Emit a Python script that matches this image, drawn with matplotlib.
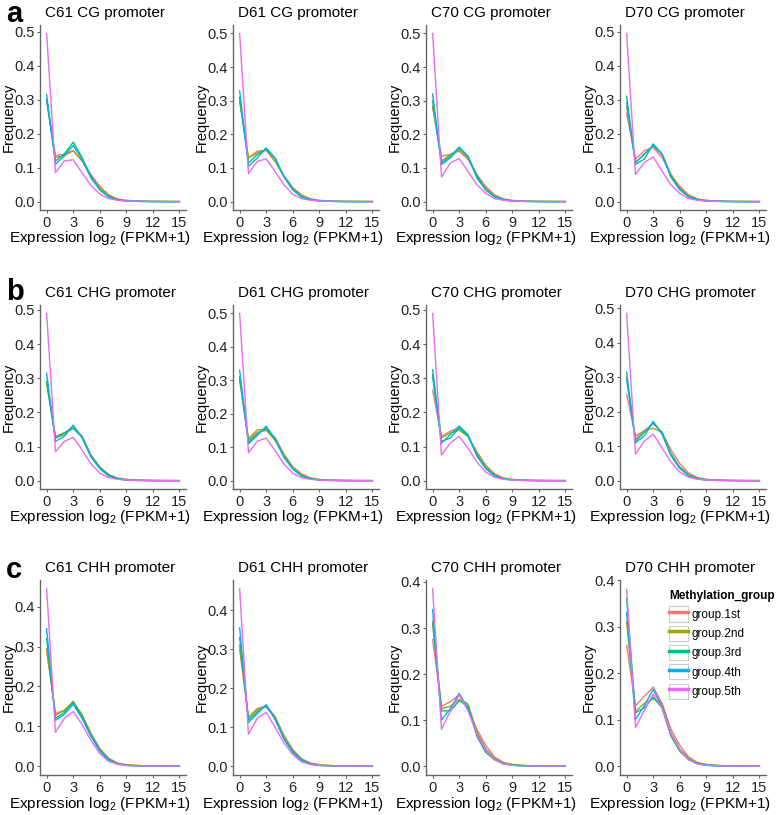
import matplotlib
matplotlib.use("Agg")
import matplotlib.pyplot as plt
from matplotlib.patches import Rectangle
from matplotlib.lines import Line2D
from matplotlib.legend_handler import HandlerTuple

plt.rcParams["font.family"] = ["Liberation Sans", "DejaVu Sans"]
plt.rcParams["mathtext.default"] = "regular"

x = list(range(16))
groups = ["group.1st", "group.2nd", "group.3rd", "group.4th", "group.5th"]
colors = ["#F8766D", "#A3A500", "#00BF7D", "#00B0F6", "#E76BF3"]

# ---- CG promoter ----
c61_cg = [
    [0.300, 0.135, 0.140, 0.150, 0.120, 0.080, 0.045, 0.020, 0.008, 0.004, 0.002, 0.001, 0.0005, 0.0003, 0.0002, 0.0001],
    [0.300, 0.130, 0.135, 0.150, 0.120, 0.075, 0.040, 0.018, 0.007, 0.003, 0.002, 0.001, 0.0005, 0.0003, 0.0002, 0.0001],
    [0.300, 0.120, 0.140, 0.175, 0.130, 0.075, 0.035, 0.015, 0.005, 0.002, 0.001, 0.0005, 0.0003, 0.0002, 0.0001, 0.0001],
    [0.315, 0.110, 0.135, 0.165, 0.125, 0.070, 0.035, 0.014, 0.005, 0.002, 0.001, 0.0005, 0.0003, 0.0002, 0.0001, 0.0001],
    [0.495, 0.085, 0.120, 0.123, 0.085, 0.048, 0.022, 0.009, 0.004, 0.002, 0.001, 0.0005, 0.0003, 0.0002, 0.0001, 0.0001],
]
d61_cg = [
    [0.300, 0.130, 0.150, 0.152, 0.120, 0.078, 0.042, 0.020, 0.008, 0.004, 0.002, 0.001, 0.0005, 0.0003, 0.0002, 0.0001],
    [0.300, 0.130, 0.145, 0.155, 0.120, 0.075, 0.040, 0.018, 0.007, 0.003, 0.002, 0.001, 0.0005, 0.0003, 0.0002, 0.0001],
    [0.310, 0.115, 0.140, 0.155, 0.130, 0.075, 0.036, 0.015, 0.006, 0.002, 0.001, 0.0005, 0.0003, 0.0002, 0.0001, 0.0001],
    [0.330, 0.105, 0.130, 0.160, 0.130, 0.075, 0.035, 0.014, 0.005, 0.002, 0.001, 0.0005, 0.0003, 0.0002, 0.0001, 0.0001],
    [0.500, 0.083, 0.120, 0.127, 0.090, 0.050, 0.022, 0.009, 0.004, 0.002, 0.001, 0.0005, 0.0003, 0.0002, 0.0001, 0.0001],
]
c70_cg = [
    [0.280, 0.135, 0.140, 0.150, 0.125, 0.080, 0.045, 0.020, 0.008, 0.004, 0.002, 0.001, 0.0005, 0.0003, 0.0002, 0.0001],
    [0.285, 0.120, 0.140, 0.155, 0.130, 0.080, 0.040, 0.018, 0.007, 0.003, 0.002, 0.001, 0.0005, 0.0003, 0.0002, 0.0001],
    [0.320, 0.110, 0.130, 0.160, 0.135, 0.075, 0.035, 0.015, 0.006, 0.002, 0.001, 0.0005, 0.0003, 0.0002, 0.0001, 0.0001],
    [0.300, 0.115, 0.135, 0.162, 0.135, 0.070, 0.035, 0.014, 0.005, 0.002, 0.001, 0.0005, 0.0003, 0.0002, 0.0001, 0.0001],
    [0.500, 0.073, 0.115, 0.128, 0.090, 0.050, 0.025, 0.009, 0.004, 0.002, 0.001, 0.0005, 0.0003, 0.0002, 0.0001, 0.0001],
]
d70_cg = [
    [0.260, 0.125, 0.150, 0.160, 0.130, 0.080, 0.045, 0.020, 0.008, 0.004, 0.002, 0.001, 0.0005, 0.0003, 0.0002, 0.0001],
    [0.280, 0.115, 0.140, 0.165, 0.140, 0.080, 0.040, 0.018, 0.007, 0.003, 0.002, 0.001, 0.0005, 0.0003, 0.0002, 0.0001],
    [0.310, 0.110, 0.125, 0.170, 0.140, 0.072, 0.035, 0.015, 0.006, 0.002, 0.001, 0.0005, 0.0003, 0.0002, 0.0001, 0.0001],
    [0.290, 0.115, 0.140, 0.165, 0.140, 0.075, 0.036, 0.014, 0.005, 0.002, 0.001, 0.0005, 0.0003, 0.0002, 0.0001, 0.0001],
    [0.495, 0.080, 0.115, 0.132, 0.090, 0.050, 0.024, 0.009, 0.004, 0.002, 0.001, 0.0005, 0.0003, 0.0002, 0.0001, 0.0001],
]

# ---- CHG promoter ----
c61_chg = [
    [0.290, 0.130, 0.140, 0.158, 0.130, 0.075, 0.040, 0.018, 0.008, 0.004, 0.002, 0.001, 0.0005, 0.0003, 0.0002, 0.0001],
    [0.285, 0.125, 0.135, 0.155, 0.130, 0.075, 0.040, 0.018, 0.007, 0.003, 0.002, 0.001, 0.0005, 0.0003, 0.0002, 0.0001],
    [0.290, 0.125, 0.140, 0.153, 0.128, 0.072, 0.038, 0.016, 0.006, 0.002, 0.001, 0.0005, 0.0003, 0.0002, 0.0001, 0.0001],
    [0.315, 0.115, 0.130, 0.163, 0.125, 0.070, 0.035, 0.014, 0.005, 0.002, 0.001, 0.0005, 0.0003, 0.0002, 0.0001, 0.0001],
    [0.490, 0.085, 0.115, 0.127, 0.090, 0.050, 0.022, 0.009, 0.004, 0.002, 0.001, 0.0005, 0.0003, 0.0002, 0.0001, 0.0001],
]
d61_chg = [
    [0.300, 0.120, 0.145, 0.150, 0.130, 0.080, 0.042, 0.020, 0.008, 0.004, 0.002, 0.001, 0.0005, 0.0003, 0.0002, 0.0001],
    [0.310, 0.125, 0.152, 0.152, 0.120, 0.075, 0.040, 0.018, 0.007, 0.003, 0.002, 0.001, 0.0005, 0.0003, 0.0002, 0.0001],
    [0.310, 0.115, 0.140, 0.157, 0.125, 0.072, 0.036, 0.015, 0.006, 0.002, 0.001, 0.0005, 0.0003, 0.0002, 0.0001, 0.0001],
    [0.330, 0.110, 0.135, 0.163, 0.125, 0.070, 0.035, 0.014, 0.005, 0.002, 0.001, 0.0005, 0.0003, 0.0002, 0.0001, 0.0001],
    [0.500, 0.083, 0.118, 0.127, 0.090, 0.050, 0.022, 0.009, 0.004, 0.002, 0.001, 0.0005, 0.0003, 0.0002, 0.0001, 0.0001],
]
c70_chg = [
    [0.265, 0.130, 0.145, 0.155, 0.130, 0.085, 0.045, 0.020, 0.008, 0.004, 0.002, 0.001, 0.0005, 0.0003, 0.0002, 0.0001],
    [0.310, 0.125, 0.140, 0.148, 0.130, 0.080, 0.040, 0.018, 0.007, 0.003, 0.002, 0.001, 0.0005, 0.0003, 0.0002, 0.0001],
    [0.325, 0.115, 0.125, 0.155, 0.130, 0.075, 0.037, 0.015, 0.006, 0.002, 0.001, 0.0005, 0.0003, 0.0002, 0.0001, 0.0001],
    [0.305, 0.110, 0.135, 0.160, 0.135, 0.072, 0.035, 0.014, 0.005, 0.002, 0.001, 0.0005, 0.0003, 0.0002, 0.0001, 0.0001],
    [0.490, 0.075, 0.110, 0.130, 0.095, 0.055, 0.025, 0.010, 0.004, 0.002, 0.001, 0.0005, 0.0003, 0.0002, 0.0001, 0.0001],
]
d70_chg = [
    [0.250, 0.130, 0.145, 0.165, 0.140, 0.090, 0.050, 0.022, 0.009, 0.004, 0.002, 0.001, 0.0005, 0.0003, 0.0002, 0.0001],
    [0.300, 0.120, 0.145, 0.152, 0.140, 0.080, 0.040, 0.018, 0.007, 0.003, 0.002, 0.001, 0.0005, 0.0003, 0.0002, 0.0001],
    [0.315, 0.110, 0.130, 0.172, 0.135, 0.073, 0.036, 0.015, 0.006, 0.002, 0.001, 0.0005, 0.0003, 0.0002, 0.0001, 0.0001],
    [0.295, 0.115, 0.140, 0.167, 0.140, 0.075, 0.037, 0.014, 0.005, 0.002, 0.001, 0.0005, 0.0003, 0.0002, 0.0001, 0.0001],
    [0.485, 0.077, 0.115, 0.135, 0.095, 0.055, 0.025, 0.010, 0.004, 0.002, 0.001, 0.0005, 0.0003, 0.0002, 0.0001, 0.0001],
]

# ---- CHH promoter ----
c61_chh = [
    [0.290, 0.132, 0.140, 0.160, 0.130, 0.083, 0.045, 0.020, 0.008, 0.004, 0.002, 0.001, 0.0005, 0.0003, 0.0002, 0.0001],
    [0.295, 0.128, 0.140, 0.163, 0.128, 0.080, 0.042, 0.019, 0.007, 0.003, 0.002, 0.001, 0.0005, 0.0003, 0.0002, 0.0001],
    [0.320, 0.120, 0.135, 0.160, 0.125, 0.078, 0.040, 0.017, 0.006, 0.002, 0.001, 0.0005, 0.0003, 0.0002, 0.0001, 0.0001],
    [0.345, 0.115, 0.130, 0.155, 0.120, 0.075, 0.038, 0.015, 0.005, 0.002, 0.001, 0.0005, 0.0003, 0.0002, 0.0001, 0.0001],
    [0.445, 0.085, 0.120, 0.137, 0.105, 0.065, 0.032, 0.012, 0.005, 0.002, 0.001, 0.0005, 0.0003, 0.0002, 0.0001, 0.0001],
]
d61_chh = [
    [0.300, 0.125, 0.148, 0.155, 0.128, 0.080, 0.043, 0.019, 0.008, 0.004, 0.002, 0.001, 0.0005, 0.0003, 0.0002, 0.0001],
    [0.310, 0.125, 0.145, 0.152, 0.125, 0.075, 0.040, 0.018, 0.007, 0.003, 0.002, 0.001, 0.0005, 0.0003, 0.0002, 0.0001],
    [0.330, 0.118, 0.140, 0.155, 0.122, 0.072, 0.037, 0.016, 0.006, 0.002, 0.001, 0.0005, 0.0003, 0.0002, 0.0001, 0.0001],
    [0.355, 0.112, 0.135, 0.158, 0.120, 0.070, 0.035, 0.014, 0.005, 0.002, 0.001, 0.0005, 0.0003, 0.0002, 0.0001, 0.0001],
    [0.455, 0.082, 0.123, 0.138, 0.100, 0.060, 0.030, 0.011, 0.004, 0.002, 0.001, 0.0005, 0.0003, 0.0002, 0.0001, 0.0001],
]
c70_chh = [
    [0.275, 0.130, 0.140, 0.155, 0.125, 0.080, 0.045, 0.020, 0.008, 0.004, 0.002, 0.001, 0.0005, 0.0003, 0.0002, 0.0001],
    [0.315, 0.125, 0.130, 0.145, 0.135, 0.075, 0.037, 0.017, 0.007, 0.003, 0.002, 0.001, 0.0005, 0.0003, 0.0002, 0.0001],
    [0.310, 0.120, 0.120, 0.142, 0.130, 0.065, 0.030, 0.014, 0.006, 0.002, 0.001, 0.0005, 0.0003, 0.0002, 0.0001, 0.0001],
    [0.340, 0.100, 0.125, 0.158, 0.125, 0.070, 0.035, 0.015, 0.005, 0.002, 0.001, 0.0005, 0.0003, 0.0002, 0.0001, 0.0001],
    [0.385, 0.080, 0.120, 0.155, 0.120, 0.070, 0.035, 0.014, 0.005, 0.002, 0.001, 0.0005, 0.0003, 0.0002, 0.0001, 0.0001],
]
d70_chh = [
    [0.260, 0.130, 0.150, 0.170, 0.135, 0.080, 0.045, 0.020, 0.008, 0.004, 0.002, 0.001, 0.0005, 0.0003, 0.0002, 0.0001],
    [0.310, 0.118, 0.135, 0.145, 0.135, 0.072, 0.037, 0.017, 0.007, 0.003, 0.002, 0.001, 0.0005, 0.0003, 0.0002, 0.0001],
    [0.360, 0.115, 0.125, 0.148, 0.125, 0.065, 0.032, 0.014, 0.006, 0.002, 0.001, 0.0005, 0.0003, 0.0002, 0.0001, 0.0001],
    [0.330, 0.100, 0.130, 0.165, 0.128, 0.070, 0.035, 0.015, 0.005, 0.002, 0.001, 0.0005, 0.0003, 0.0002, 0.0001, 0.0001],
    [0.380, 0.083, 0.120, 0.155, 0.125, 0.070, 0.035, 0.014, 0.005, 0.002, 0.001, 0.0005, 0.0003, 0.0002, 0.0001, 0.0001],
]

rows = [
    ("a", ["C61 CG promoter", "D61 CG promoter", "C70 CG promoter", "D70 CG promoter"],
     [c61_cg, d61_cg, c70_cg, d70_cg]),
    ("b", ["C61 CHG promoter", "D61 CHG promoter", "C70 CHG promoter", "D70 CHG promoter"],
     [c61_chg, d61_chg, c70_chg, d70_chg]),
    ("c", ["C61 CHH promoter", "D61 CHH promoter", "C70 CHH promoter", "D70 CHH promoter"],
     [c61_chh, d61_chh, c70_chh, d70_chh]),
]

W, H = 777, 815
fig = plt.figure(figsize=(W / 100, H / 100), dpi=100)

col_left = [40, 233, 426, 620]
ax_w = 146
row_tb = [(25, 210), (305, 489), (580, 775)]
label_base = [22, 300, 578]

AXCOL = "#666666"
for r, (letter, titles, panels) in enumerate(rows):
    top, bot = row_tb[r]
    for c in range(4):
        ax = fig.add_axes([col_left[c] / W, 1 - bot / H, ax_w / W, (bot - top) / H])
        for g in range(5):
            ax.plot(x, panels[c][g], color=colors[g], lw=1.0)
        ax.margins(x=0.05, y=0.05)
        ax.set_xticks([0, 3, 6, 9, 12, 15])
        ax.set_yticks([0.0, 0.1, 0.2, 0.3, 0.4, 0.5] if r < 2 else [0.0, 0.1, 0.2, 0.3, 0.4])
        ax.yaxis.set_major_formatter(matplotlib.ticker.FormatStrFormatter("%.1f"))
        for s in ["top", "right"]:
            ax.spines[s].set_visible(False)
        for s in ["left", "bottom"]:
            ax.spines[s].set_color(AXCOL)
            ax.spines[s].set_linewidth(1.0)
        ax.tick_params(colors=AXCOL, labelcolor="#222222", labelsize=10.5, length=2.5, width=0.8, pad=1.5)
        ax.set_title(titles[c], fontsize=11, pad=6, loc="left", x=0.035)
        ax.set_ylabel("Frequency", fontsize=10.5)
        ax.yaxis.set_label_coords(-0.165, 0.5)
        ax.set_xlabel("Expression log$_2$ (FPKM+1)", fontsize=11)
        ax.xaxis.set_label_coords(0.41, -0.105)
        if r == 2 and c == 3:
            handles = [(Rectangle((0, 0), 1, 1, facecolor="white", edgecolor="#cccccc", lw=0.8),
                        Line2D([], [], color=col, lw=2.5)) for col in colors]
            leg = ax.legend(handles, groups, title="Methylation_group",
                            handler_map={tuple: HandlerTuple(ndivide=1, pad=0)},
                            loc="upper left", bbox_to_anchor=(0.28, 0.99),
                            frameon=False, fontsize=8.5, title_fontsize=8.5,
                            handlelength=1.6, handleheight=1.6, handletextpad=0.3,
                            labelspacing=0.35, borderpad=0.2, alignment="left")
            leg.get_title().set_fontweight("bold")
    fig.text(6 / W, 1 - label_base[r] / H, letter, fontsize=21, fontweight="bold",
             va="baseline", ha="left")

fig.savefig("out.png", dpi=100)
